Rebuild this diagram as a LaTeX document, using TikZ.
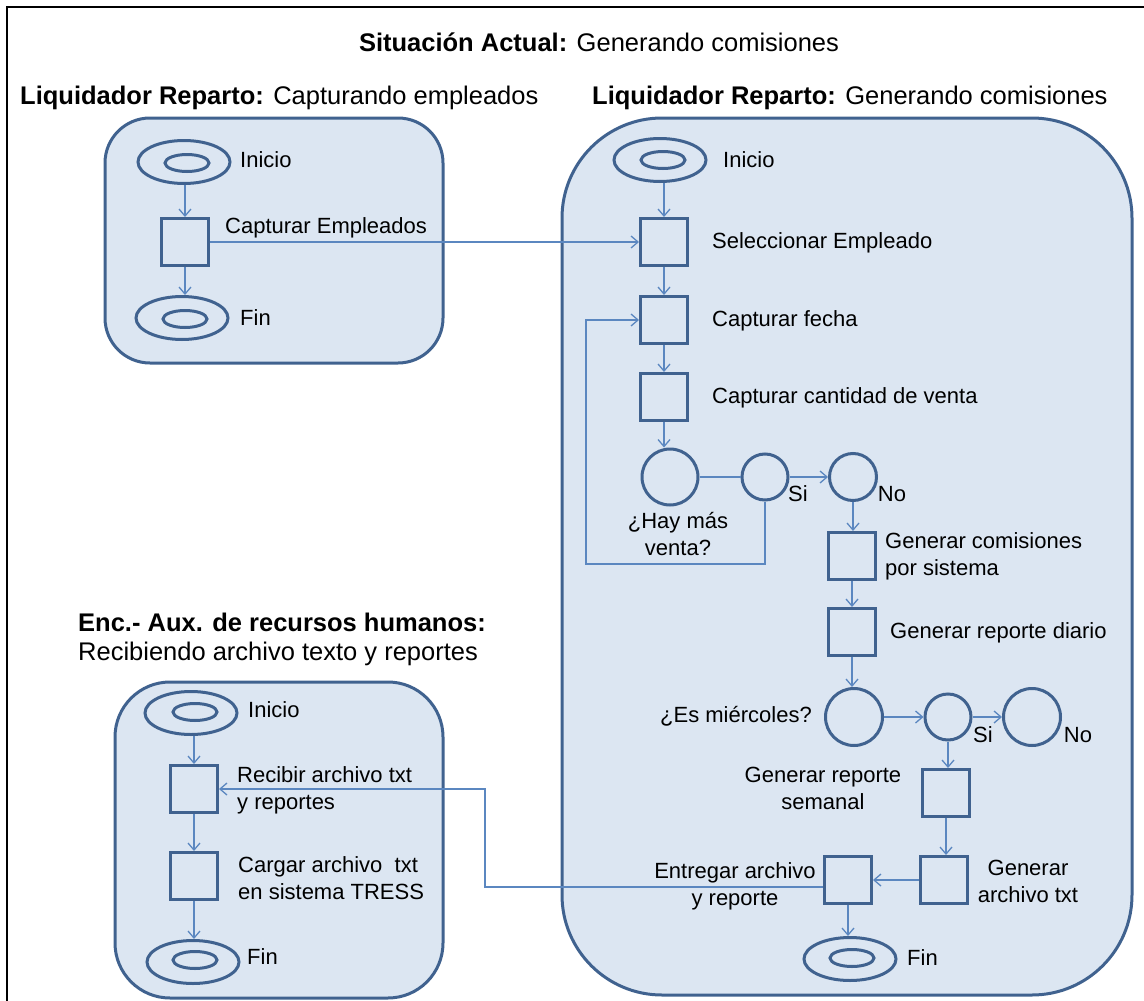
\documentclass[tikz,border=0pt]{standalone}
\usepackage{fontspec}
\setmainfont{Liberation Sans}
\usetikzlibrary{arrows.meta,shapes.geometric}
\definecolor{fillc}{HTML}{DCE6F2}
\definecolor{bordc}{HTML}{40628F}
\definecolor{linec}{HTML}{5B87C0}
\tikzset{
  lane/.style={draw=bordc, line width=3pt, fill=fillc},
  actbox/.style={draw=bordc, line width=3pt, fill=fillc, minimum size=47pt, inner sep=0pt},
  decc/.style={draw=bordc, line width=3pt, circle, inner sep=0pt, minimum size=#1},
  outerell/.style={draw=bordc, line width=3pt, ellipse, inner sep=0pt, minimum width=92pt, minimum height=43pt},
  innerell/.style={draw=bordc, line width=3pt, ellipse, inner sep=0pt, minimum width=44pt, minimum height=17pt},
  flow/.style={draw=linec, line width=1.3pt, -{Straight Barb[length=7pt,width=12pt]}},
  plain/.style={draw=linec, line width=1.3pt},
  lbl/.style={inner sep=0pt, font=\fontsize{22}{27}\selectfont},
  head/.style={inner sep=0pt, font=\fontsize{25.5}{30}\selectfont},
}
\begin{document}
\begin{tikzpicture}[x=1pt,y=-1pt]
\useasboundingbox (0,0) rectangle (1144,1001);
% frame
\draw[line width=2pt] (7,1001) -- (7,7) -- (1144,7);
% titles
\node[head] (title) at (599,42) {\textbf{Situación Actual:} Generando comisiones};
\node[head,anchor=west] (h1) at (20,98) {\textbf{Liquidador Reparto:} Capturando empleados};
\node[head,anchor=west] (h2) at (592,98) {\textbf{Liquidador Reparto:} Generando comisiones};
\node[head,anchor=west] (h3a) at (78,622) {\textbf{Enc.- Aux. de recursos humanos:}};
\node[head,anchor=west] (h3b) at (78,654) {Recibiendo archivo texto y reportes};
% lanes
\draw[lane, rounded corners=45pt] (105,118) rectangle (443,363);
\draw[lane, rounded corners=100pt] (562,118) rectangle (1132,995);
\draw[lane, rounded corners=55pt] (115,682) rectangle (443,998);

% ---- lane 1
\node[outerell] (ini1) at (184,162) {};
\node[innerell] (ini1i) at (187,163) {};
\node[lbl,anchor=west] (ini1l) at (240,160) {Inicio};
\node[actbox] (cap1) at (185,242) {};
\node[lbl,anchor=west] (cap1l) at (225,228) {Capturar Empleados};
\node[outerell] (fin1) at (182,318) {};
\node[innerell] (fin1i) at (185,319) {};
\node[lbl,anchor=west] (fin1l) at (240,318) {Fin};

% ---- lane 2
\node[outerell] (ini2) at (660,160) {};
\node[innerell] (ini2i) at (663,160) {};
\node[lbl,anchor=west] (ini2l) at (723,160) {Inicio};
\node[actbox] (sel) at (664,242) {};
\node[lbl,anchor=west] (sell) at (712,243) {Seleccionar Empleado};
\node[actbox] (fecha) at (664,320) {};
\node[lbl,anchor=west] (fechal) at (712,321) {Capturar fecha};
\node[actbox] (cant) at (664,397) {};
\node[lbl,anchor=west] (cantl) at (712,398) {Capturar cantidad de venta};
\node[decc=56pt] (hay) at (670,477) {};
\node[lbl,align=center] (hayl) at (678,534) {¿Hay más\\venta?};
\node[decc=46pt] (si1) at (765,477) {};
\node[lbl] (si1l) at (798,494) {Si};
\node[decc=47pt] (no1) at (853,477) {};
\node[lbl] (no1l) at (892,494) {No};
\node[actbox] (gcom) at (852,556) {};
\node[lbl,anchor=west,align=left] (gcoml) at (885,556) {Generar comisiones\\por sistema};
\node[actbox] (gdia) at (852,632) {};
\node[lbl,anchor=west] (gdial) at (890,633) {Generar reporte diario};
\node[decc=57pt] (mier) at (854,717) {};
\node[lbl,anchor=east] (mierl) at (812,716) {¿Es miércoles?};
\node[decc=46pt] (si2) at (948,717) {};
\node[lbl] (si2l) at (983,735) {Si};
\node[decc=57pt] (no2) at (1032,717) {};
\node[lbl] (no2l) at (1078,735) {No};
\node[actbox] (sem) at (946,793) {};
\node[lbl,align=center] (seml) at (823,788) {Generar reporte\\semanal};
\node[actbox] (garch) at (944,880) {};
\node[lbl,align=center] (garchl) at (1028,881) {Generar\\archivo txt};
\node[actbox] (entr) at (848,880) {};
\node[lbl,align=center] (entrl) at (735,886) {Entregar archivo\\y reporte};
\node[outerell] (fin2) at (850,959) {};
\node[innerell] (fin2i) at (852,958) {};
\node[lbl,anchor=west] (fin2l) at (907,958) {Fin};

% ---- lane 3
\node[outerell] (ini3) at (191,713) {};
\node[innerell] (ini3i) at (195,712) {};
\node[lbl,anchor=west] (ini3l) at (248,710) {Inicio};
\node[actbox] (rec) at (194,789) {};
\node[lbl,anchor=west,align=left] (recl) at (237,790) {Recibir archivo txt\\y reportes};
\node[actbox] (carg) at (194,876) {};
\node[lbl,anchor=west,align=left] (cargl) at (238,878) {Cargar archivo~~txt\\en sistema TRESS};
\node[outerell] (fin3) at (193,962) {};
\node[innerell] (fin3i) at (195,960) {};
\node[lbl,anchor=west] (fin3l) at (247,957) {Fin};

% ---- connectors lane 1
\draw[flow] (cap1.north |- ini1.south) -- (cap1.north);
\draw[flow] (cap1.south) -- (cap1.south |- fin1.north);
\draw[flow] (cap1.east) -- (cap1.east -| sel.west);

% ---- connectors lane 2
\draw[flow] (sel.north |- ini2.south) -- (sel.north);
\draw[flow] (sel.south) -- (fecha.north);
\draw[flow] (fecha.south) -- (cant.north);
\draw[flow] (cant.south) -- (cant.south |- hay.north);
\draw[plain] (hay.east) -- (si1.west);
\draw[flow] (si1.east) -- (no1.west);
\coordinate (lpB) at (586,564);
\draw[flow] (si1.south) |- (lpB) |- (fecha.west);
\draw[flow] (no1.south) -- (no1.south |- gcom.north);
\draw[flow] (gcom.south) -- (gdia.north);
\draw[flow] (gdia.south) -- (gdia.south |- mier.north);
\draw[flow] (mier.east) -- (si2.west);
\draw[flow] (si2.east) -- (no2.west);
\draw[flow] (si2.south) -- (si2.south |- sem.north);
\draw[flow] (sem.south) -- (sem.south |- garch.north);
\draw[flow] (garch.west) -- (entr.east);
\draw[flow] (entr.south) -- (entr.south |- fin2.north);
\coordinate (tA) at (485,887);
\draw[flow] ([yshift=-7pt]entr.west) -- (tA) |- (rec.east);

% ---- connectors lane 3
\draw[flow] (rec.north |- ini3.south) -- (rec.north);
\draw[flow] (rec.south) -- (carg.north);
\draw[flow] (carg.south) -- (carg.south |- fin3.north);
\end{tikzpicture}
\end{document}
